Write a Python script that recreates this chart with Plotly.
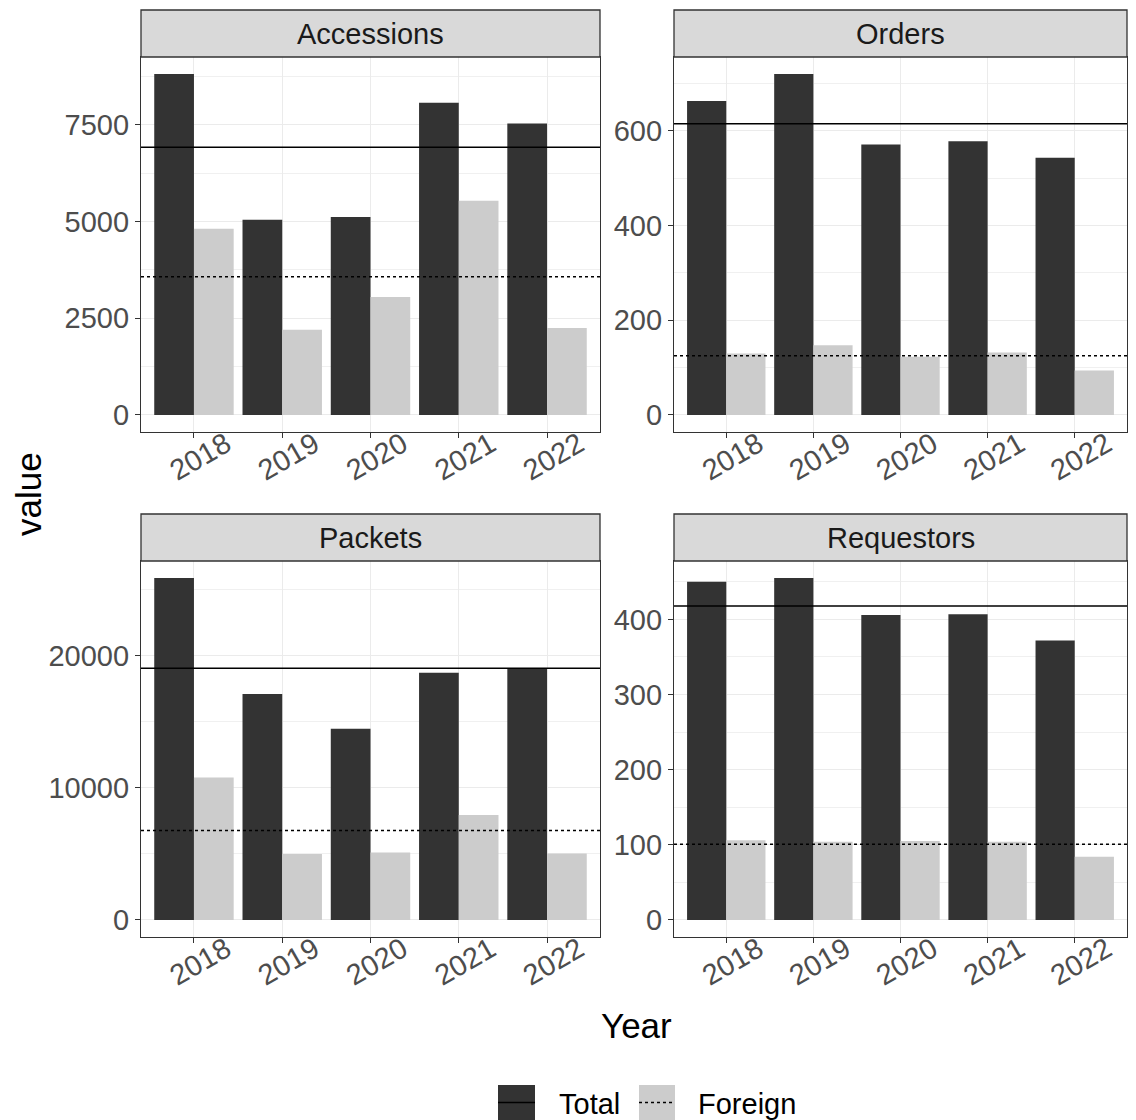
import plotly.graph_objects as go

years = ["2018", "2019", "2020", "2021", "2022"]
panels = ["Accessions", "Orders", "Packets", "Requestors"]

acc_total = [8810, 5045, 5115, 8070, 7535]
acc_foreign = [4815, 2205, 3050, 5535, 2245]
ord_total = [663, 720, 571, 578, 543]
ord_foreign = [130, 147, 123, 132, 94]
pkt_total = [25900, 17110, 14480, 18730, 19090]
pkt_foreign = [10790, 4990, 5110, 7950, 5040]
req_total = [450, 455, 406, 407, 372]
req_foreign = [106, 104, 105, 104, 84]

totals = [acc_total, ord_total, pkt_total, req_total]
foreigns = [acc_foreign, ord_foreign, pkt_foreign, req_foreign]
y_dticks = [2500, 200, 10000, 100]

# page offset (body margin) compensation
OX, OY = 8, 8
W, H = 1136 - OX, 1120 - OY
DARK = "#333333"
LIGHT = "#CCCCCC"
FONT = "Liberation Sans, Arial, sans-serif"

# panel pixel boxes in reference coordinates (left, right, top, bottom)
boxes = [
    (141, 600, 57, 432),
    (674, 1127, 57, 432),
    (141, 600, 561, 937),
    (674, 1127, 561, 937),
]
strip_h = 47

def px(x):
    return (x - OX) / W

def py(y):
    return 1 - (y - OY) / H

fig = go.Figure()
shapes = []
annotations = []
layout = {}

for i, name in enumerate(panels):
    n = "" if i == 0 else str(i + 1)
    xa, ya = "x" + n, "y" + n
    tot, fr = totals[i], foreigns[i]
    fig.add_trace(go.Bar(x=years, y=tot, marker=dict(color=DARK, line=dict(width=0)),
                         xaxis=xa, yaxis=ya, showlegend=False, name="Total",
                         offsetgroup="t"))
    fig.add_trace(go.Bar(x=years, y=fr, marker=dict(color=LIGHT, line=dict(width=0)),
                         xaxis=xa, yaxis=ya, showlegend=False, name="Foreign",
                         offsetgroup="f"))
    l, r, t, b = boxes[i]
    ymax = max(max(tot), max(fr))
    layout["xaxis" + n] = dict(
        domain=[px(l), px(r)], anchor=ya, type="category", range=[-0.6, 4.6],
        showline=True, mirror=True, linecolor=DARK, linewidth=1.3,
        ticks="outside", ticklen=5, tickcolor=DARK, tickwidth=1.2,
        tickangle=-30, tickfont=dict(size=29, color="#4D4D4D", family=FONT),
        ticklabelshift=32, ticklabelstandoff=-22,
        showgrid=True, gridcolor="#EBEBEB", gridwidth=1.2, zeroline=False,
    )
    layout["yaxis" + n] = dict(
        domain=[py(b), py(t)], anchor=xa, range=[-0.05 * ymax, 1.05 * ymax],
        showline=True, mirror=True, linecolor=DARK, linewidth=1.3,
        ticks="outside", ticklen=5, tickcolor=DARK, tickwidth=1.2,
        tickfont=dict(size=29, color="#4D4D4D", family=FONT),
        dtick=y_dticks[i], tick0=0, tickformat="d",
        showgrid=True, gridcolor="#EBEBEB", gridwidth=1.2, zeroline=False,
        minor=dict(dtick=y_dticks[i] / 2, tick0=0, showgrid=True,
                   gridcolor="#F0F0F0", gridwidth=0.7, ticks=""),
    )
    # mean lines
    shapes.append(dict(type="line", xref=xa + " domain", yref=ya, x0=0, x1=1,
                       y0=sum(tot) / len(tot), y1=sum(tot) / len(tot),
                       line=dict(color="black", width=1.5)))
    shapes.append(dict(type="line", xref=xa + " domain", yref=ya, x0=0, x1=1,
                       y0=sum(fr) / len(fr), y1=sum(fr) / len(fr),
                       line=dict(color="black", width=1.5, dash="3px,3px")))
    # strip
    shapes.append(dict(type="rect", xref="paper", yref="paper",
                       x0=px(l), x1=px(r), y0=py(t), y1=py(t - strip_h),
                       fillcolor="#D9D9D9", line=dict(color=DARK, width=1.3)))
    annotations.append(dict(text=name, xref="paper", yref="paper",
                            x=(px(l) + px(r)) / 2, y=py(t - strip_h / 2),
                            showarrow=False, xanchor="center", yanchor="middle",
                            font=dict(size=29, color="#1A1A1A", family=FONT)))

# axis titles
annotations.append(dict(text="value", xref="paper", yref="paper", x=px(29), y=py(494),
                        showarrow=False, textangle=-90, xanchor="center", yanchor="middle",
                        font=dict(size=35, color="black", family=FONT)))
annotations.append(dict(text="Year", xref="paper", yref="paper", x=px(636), y=py(1025),
                        showarrow=False, xanchor="center", yanchor="middle",
                        font=dict(size=35, color="black", family=FONT)))

# legend (manual)
legend_items = [("Total", DARK, "solid", 498, 535, 557), ("Foreign", LIGHT, "3px,3px", 639, 675, 696)]
for lab, col, dash, k0, k1, tx in legend_items:
    shapes.append(dict(type="rect", xref="paper", yref="paper", x0=px(k0), x1=px(k1),
                       y0=py(1120), y1=py(1085), fillcolor=col, line=dict(width=0)))
    shapes.append(dict(type="line", xref="paper", yref="paper", x0=px(k0), x1=px(k1),
                       y0=py(1102.5), y1=py(1102.5), line=dict(color="black", width=1.5, dash=dash)))
    annotations.append(dict(text=lab, xref="paper", yref="paper", x=px(tx), y=py(1104),
                            showarrow=False, xanchor="left", yanchor="middle",
                            font=dict(size=29, color="black", family=FONT)))

fig.update_layout(
    width=W, height=H, autosize=False,
    margin=dict(l=0, r=0, t=0, b=0),
    paper_bgcolor="white", plot_bgcolor="white",
    barmode="group", bargap=0.1, bargroupgap=0,
    shapes=shapes, annotations=annotations, showlegend=False,
    font=dict(family=FONT),
    **layout,
)

fig.write_html("out.html")
